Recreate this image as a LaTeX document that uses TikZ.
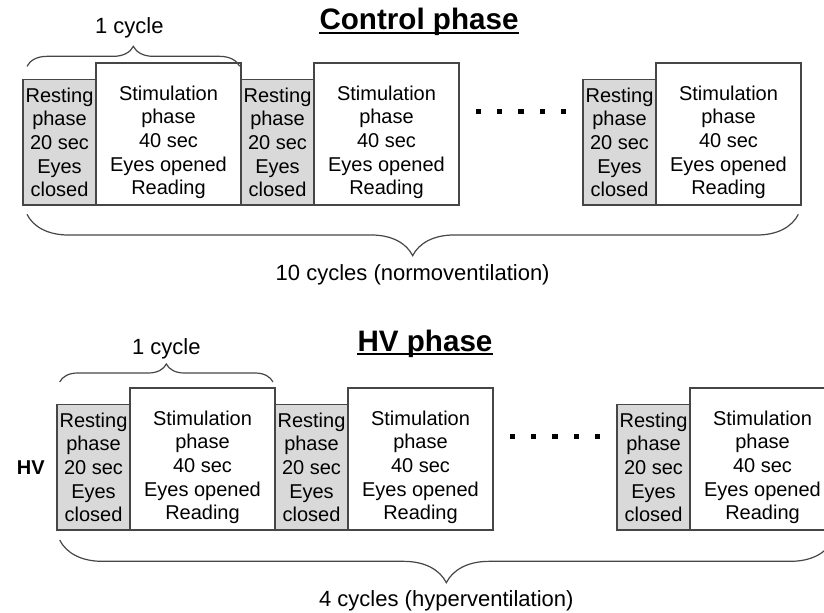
\documentclass[tikz,border=0pt]{standalone}
\usepackage{fontspec}
\setmainfont{Liberation Sans}
\usepackage{tikz}
\usetikzlibrary{positioning,calc,decorations.pathreplacing}
\definecolor{linegray}{RGB}{70,70,70}
\definecolor{restgray}{RGB}{217,217,217}
\newcommand{\resttext}{Resting\\phase\\20 sec\\Eyes\\closed}
\newcommand{\stimtext}{Stimulation\\phase\\40 sec\\Eyes opened\\Reading}

\begin{document}
\begin{tikzpicture}[
        x=0.75pt, y=-0.75pt,                 % 像素坐标
        rest/.style={draw=linegray, fill=restgray, line width=1.1pt,
            minimum width=54.75pt, minimum height=94pt,
            inner sep=0pt, outer sep=0pt, align=center,
            font=\fontsize{15}{17.8}\selectfont},
        stim/.style={minimum width=108.75pt, minimum height=94pt,
            inner sep=0pt, outer sep=0pt, align=center,
            font=\fontsize{15}{17.8}\selectfont},
        frame/.style={draw=linegray, line width=1.1pt},
        brace/.style={draw=linegray, line width=0.9pt, decorate},
        lbl/.style={inner sep=0pt, font=\fontsize{16.5}{20}\selectfont},
        title/.style={inner sep=0pt, font=\fontsize{22.2}{26}\selectfont\bfseries},
        uline/.style={line width=1.6pt},
        sq/.style={fill=black, minimum size=3.8pt, inner sep=0pt}
    ]
    \clip (0,0) rectangle (824,613);

    % 上面一排
    \node[title, anchor=base] (ctrl) at (419,30) {Control phase};
    \node[rest, anchor=south west] (r1) at (23,205) {\resttext};
    \node[stim, right=0pt of r1] (s1) {\stimtext};
    \node[rest, right=0pt of s1] (r2) {\resttext};
    \node[stim, right=0pt of r2] (s2) {\stimtext};
    \node[rest, right=93pt of s2] (r3) {\resttext};
    \node[stim, right=0pt of r3] (s3) {\stimtext};

    % 下面一排
    \node[title, anchor=base] (hvt) at (425,351) {HV phase};
    \node[rest, anchor=south west] (r4) at (57,530) {\resttext};
    \node[stim, right=0pt of r4] (s4) {\stimtext};
    \node[rest, right=0pt of s4] (r5) {\resttext};
    \node[stim, right=0pt of r5] (s5) {\stimtext};
    \node[rest, right=93pt of s5] (r6) {\resttext};
    \node[stim, right=0pt of r6] (s6) {\stimtext};
    \node[inner sep=0pt, font=\fontsize{15}{18}\selectfont\bfseries,
        left=9pt of r4] (hv) {HV};

    % 刺激框 (高一点)
    \foreach \n in {s1,s2,s3,s4,s5,s6}
        \draw[frame] (\n.south west) rectangle ([yshift=12.5pt]\n.north east);

    % 标题下划线
    \draw[uline] ([yshift=-2.5pt]ctrl.base west) -- ([yshift=-2.5pt]ctrl.base east);
    \draw[uline] ([yshift=-2.5pt]hvt.base west) -- ([yshift=-2.5pt]hvt.base east);

    % 省略号
    \coordinate (gap1) at ($(s2.east)!0.5!(r3.west)$);
    \coordinate (gap2) at ($(s5.east)!0.5!(r6.west)$);
    \foreach \g in {gap1,gap2}
        \foreach \k in {-2,...,2}
            \node[sq] at ([xshift=\k*16pt, yshift=23pt]\g) {};

    % 括号
    \draw[brace, decoration={brace, amplitude=15pt}]
        ([xshift=3pt, yshift=10pt]r1.north west) --
        node[lbl, above=21pt, xshift=-3pt] (cyc1) {1 cycle}
        ([xshift=-1pt, yshift=10pt]s1.north east);
    \draw[brace, decoration={brace, mirror, amplitude=31pt}]
        ([xshift=3pt, yshift=-7pt]r1.south west) --
        node[lbl, below=37pt] (all1) {10 cycles (normoventilation)}
        ([xshift=-2pt, yshift=-7pt]s3.south east);
    \draw[brace, decoration={brace, amplitude=13.5pt}]
        ([xshift=2pt, yshift=17pt]r4.north west) --
        node[lbl, above=17pt] (cyc2) {1 cycle}
        ([xshift=-1.5pt, yshift=17pt]s4.north east);
    \draw[brace, decoration={brace, mirror, amplitude=32pt}]
        ([xshift=2pt, yshift=-7.5pt]r4.south west) --
        node[lbl, below=37.5pt] (all2) {4 cycles (hyperventilation)}
        ([xshift=-1.5pt, yshift=-7.5pt]s6.south east);
\end{tikzpicture}
\end{document}
